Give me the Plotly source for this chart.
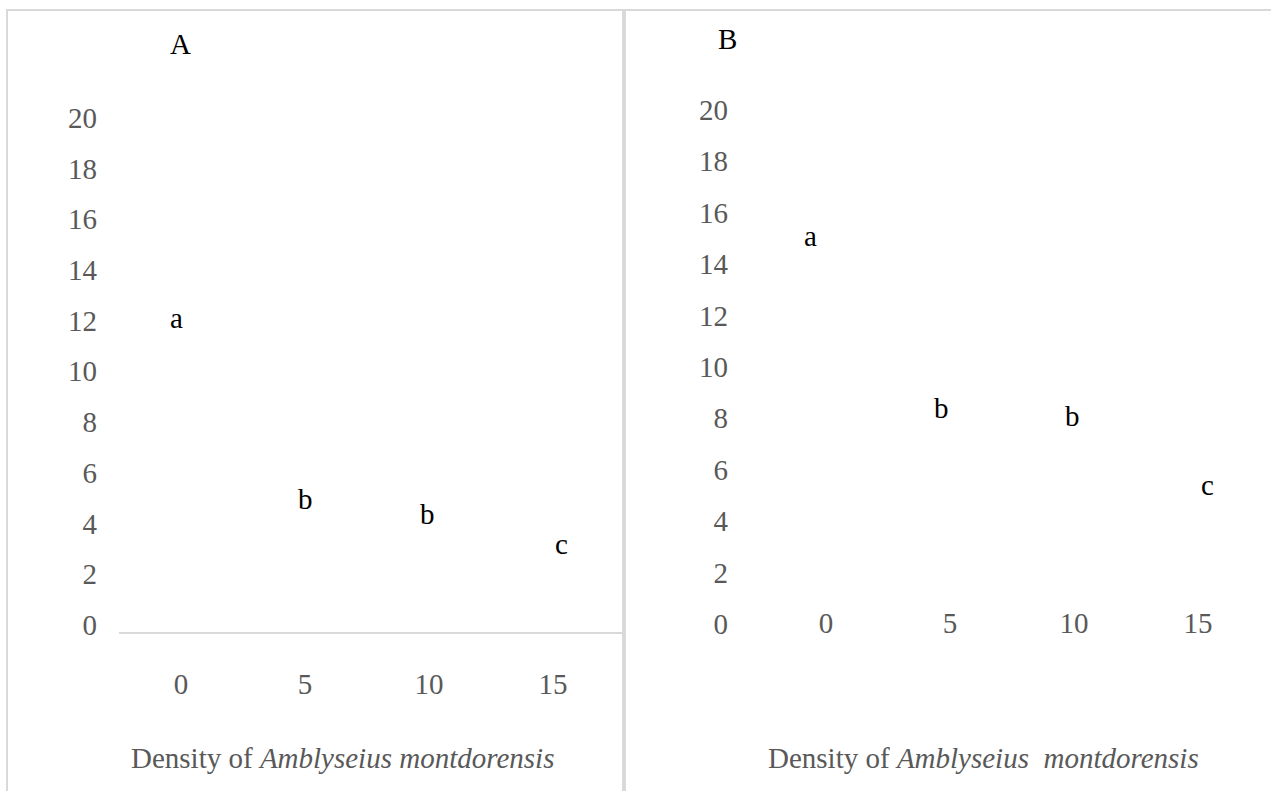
import plotly.graph_objects as go

# ---- data ----
categories = ["0", "5", "10", "15"]
letters_A = ["a", "b", "b", "c"]
values_A = [12.1, 4.96, 4.38, 3.17]
letters_B = ["a", "b", "b", "c"]
values_B = [15.09, 8.38, 8.07, 5.41]
y_ticks = [0, 2, 4, 6, 8, 10, 12, 14, 16, 18, 20]
panel_labels = ["A", "B"]
x_title_A = "Density of <i>Amblyseius montdorensis</i>"
x_title_B = "Density of <i>Amblyseius\u00a0 montdorensis</i>"

# ---- style ----
W, H = 1271, 800
GRAY = "#595959"
BORDER = "#d9d9d9"
FONT = "Liberation Serif"
TICK_SIZE = 29
LETTER_SIZE = 29
TITLE_SIZE = 29
shift_A = [-5, 0, -2, 8]
shift_B = [-16, -9, -2, 9]

cat_idx = list(range(len(categories)))


def px_x(p):
    return p / W


def px_y(p):
    return 1 - p / H


fig = go.Figure()

# invisible traces to anchor the axes
fig.add_trace(go.Scatter(x=cat_idx, y=values_A, mode="markers",
                         marker=dict(opacity=0), hoverinfo="skip",
                         xaxis="x", yaxis="y", showlegend=False))
fig.add_trace(go.Scatter(x=cat_idx, y=values_B, mode="markers",
                         marker=dict(opacity=0), hoverinfo="skip",
                         xaxis="x2", yaxis="y2", showlegend=False))

letter_font = dict(family=FONT, size=LETTER_SIZE, color="black")
annotations = []
for i, val, lab, sh in zip(cat_idx, values_A, letters_A, shift_A):
    annotations.append(dict(x=i, y=val, xref="x", yref="y", text=lab,
                            showarrow=False, xshift=sh, xanchor="center",
                            yanchor="middle", font=letter_font))
for i, val, lab, sh in zip(cat_idx, values_B, letters_B, shift_B):
    annotations.append(dict(x=i, y=val, xref="x2", yref="y2", text=lab,
                            showarrow=False, xshift=sh, xanchor="center",
                            yanchor="middle", font=letter_font))

# panel labels
annotations.append(dict(x=px_x(181), y=px_y(44), xref="paper", yref="paper",
                        text=panel_labels[0], showarrow=False,
                        xanchor="center", yanchor="middle", font=letter_font))
annotations.append(dict(x=px_x(727), y=px_y(39), xref="paper", yref="paper",
                        text=panel_labels[1], showarrow=False,
                        xanchor="center", yanchor="middle", font=letter_font))
# axis titles
title_font = dict(family=FONT, size=TITLE_SIZE, color=GRAY)
annotations.append(dict(x=px_x(342), y=px_y(767), xref="paper", yref="paper",
                        text=x_title_A, showarrow=False,
                        xanchor="center", yanchor="middle", font=title_font))
annotations.append(dict(x=px_x(983), y=px_y(767), xref="paper", yref="paper",
                        text=x_title_B, showarrow=False,
                        xanchor="center", yanchor="middle", font=title_font))

tickfont = dict(family=FONT, size=TICK_SIZE, color=GRAY)

# panel A scale: zero at 632px, 20 at 119px; plot bottom at 639, top at 100
A_zero, A_twenty, A_bot, A_top = 632, 119, 639, 100
sA = (A_zero - A_twenty) / 20
yA_lo = -(A_bot - A_zero) / sA
yA_hi = (A_zero - A_top) / sA
# panel B scale: zero at 631px, 20 at 111px; plot bottom 647, top 95
B_zero, B_twenty, B_bot, B_top = 631, 111, 647, 95
sB = (B_zero - B_twenty) / 20
yB_lo = -(B_bot - B_zero) / sB
yB_hi = (B_zero - B_top) / sB

shapes = [
    dict(type="line", xref="paper", yref="paper", x0=px_x(6), x1=1, y0=px_y(10), y1=px_y(10),
         line=dict(color=BORDER, width=2)),
    dict(type="line", xref="paper", yref="paper", x0=px_x(7), x1=px_x(7), y0=px_y(10), y1=0,
         line=dict(color=BORDER, width=2)),
    dict(type="line", xref="paper", yref="paper", x0=px_x(624), x1=px_x(624), y0=px_y(10), y1=0,
         line=dict(color=BORDER, width=4)),
]

fig.update_layout(
    width=W, height=H, autosize=False,
    margin=dict(l=0, r=0, t=0, b=0, pad=0),
    paper_bgcolor="white", plot_bgcolor="white",
    showlegend=False,
    xaxis=dict(domain=[px_x(119), px_x(622)],
               tickvals=cat_idx, ticktext=categories,
               range=[-0.5, 3.556], showgrid=False, zeroline=False,
               showline=True, linecolor=BORDER, linewidth=2,
               ticks="", tickfont=tickfont, ticklabelstandoff=25,
               anchor="y"),
    yaxis=dict(domain=[px_y(A_bot), px_y(A_top)], range=[yA_lo, yA_hi],
               tickvals=y_ticks, showgrid=False, zeroline=False, showline=False,
               ticks="", tickfont=tickfont, ticklabelstandoff=21,
               anchor="x"),
    xaxis2=dict(domain=[px_x(764), px_x(1260)],
                tickvals=cat_idx, ticktext=categories,
                range=[-0.5, 3.5], showgrid=False, zeroline=False,
                showline=False, ticks="", tickfont=tickfont,
                ticklabelstandoff=-37, anchor="y2"),
    yaxis2=dict(domain=[px_y(B_bot), px_y(B_top)], range=[yB_lo, yB_hi],
                tickvals=y_ticks, showgrid=False, zeroline=False, showline=False,
                ticks="", tickfont=tickfont, ticklabelstandoff=35,
                anchor="x2"),
    annotations=annotations,
    shapes=shapes,
)

fig.write_html("out.html",
               config={"displayModeBar": False, "responsive": False},
               post_script="document.body.style.margin='0';document.body.style.overflow='hidden';")
